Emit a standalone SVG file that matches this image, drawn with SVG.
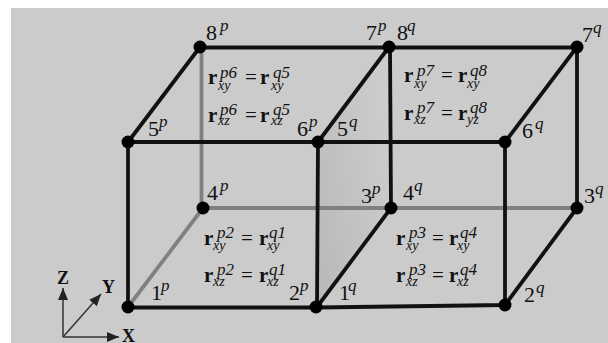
<svg xmlns="http://www.w3.org/2000/svg" width="608" height="343" viewBox="0 0 608 343">
<style>
text{font-family:"Liberation Serif","Times New Roman",serif;fill:#111}
.n{font-size:22px}
.s{font-size:17px;font-style:italic}
.r{font-size:21px;font-weight:bold}
.e{font-size:21px}
.u{font-size:17px;font-style:italic}
.d{font-size:14px;font-style:italic}
.a{font-size:18px;font-weight:bold}
.k{stroke:#111;stroke-width:3.800;fill:none;stroke-linecap:round}
.g{stroke:#808080;stroke-width:3.800;fill:none;stroke-linecap:round}
.t{stroke:#333;stroke-width:1.500;fill:none}
circle{fill:#000}
</style>
<defs>
<linearGradient id="sh" x1="0" y1="1" x2="1" y2="0.300"><stop offset="0" stop-color="#b8b8b8"/><stop offset="1" stop-color="#cdcdcd"/></linearGradient>
<marker id="ah" markerWidth="13" markerHeight="10" refX="12" refY="5" orient="auto" markerUnits="userSpaceOnUse"><path d="M0 0L12 5L0 10Z" fill="#222"/></marker>
</defs>
<rect x="11" y="8" width="597" height="335" fill="#cbcbcb"/>
<polygon points="318,142 389,47 391,208 317,307" fill="url(#sh)"/>
<g id="connectors">
<path class="g" d="M201.500 47V208M203 208H577M203 208L128 307"/>
<path class="k" d="M200 47.500H577M128 142H505M128 142L200 47M318 142L389 47M505 142L577 47M128 142V307M318 142L317 307M505 142V305M577 47V208M390 47L391 208M128 307.500L317 307.500L505 305M317 307L391 208M505 305L577 208"/>
</g>
<g id="axes">
<path class="t" d="M63 337V288" marker-end="url(#ah)"/>
<path class="t" d="M63 337L101 294" marker-end="url(#ah)"/>
<path class="t" d="M63 337H119" marker-end="url(#ah)"/>
<text class="a" x="57" y="284">Z</text><text class="a" x="102" y="293">Y</text><text class="a" x="122" y="342">X</text>
</g>
<g id="n1p"><circle cx="128" cy="307" r="6.500"/><text class="n" x="151" y="300">1</text><text class="s" x="161" y="291">p</text></g>
<g id="n2p"><circle cx="316" cy="307" r="6.500"/><text class="n" x="289" y="300">2</text><text class="s" x="300" y="291">p</text></g>
<g id="n1q"><text class="n" x="339" y="300">1</text><text class="s" x="348" y="291">q</text></g>
<g id="n2q"><circle cx="505" cy="305" r="6.500"/><text class="n" x="524" y="302">2</text><text class="s" x="536" y="293">q</text></g>
<g id="n3p"><text class="n" x="361" y="203">3</text><text class="s" x="372" y="194">p</text></g>
<g id="n4q"><circle cx="391" cy="208" r="6.500"/><text class="n" x="403" y="200">4</text><text class="s" x="414" y="191">q</text></g>
<g id="n3q"><circle cx="577" cy="208" r="6.500"/><text class="n" x="584" y="203">3</text><text class="s" x="595" y="194">q</text></g>
<g id="n4p"><circle cx="203" cy="208" r="6.500"/><text class="n" x="207" y="200">4</text><text class="s" x="220" y="191">p</text></g>
<g id="n5p"><circle cx="128" cy="142" r="6.500"/><text class="n" x="148" y="136">5</text><text class="s" x="159" y="127">p</text></g>
<g id="n6p"><circle cx="318" cy="142" r="6.500"/><text class="n" x="297" y="136">6</text><text class="s" x="309" y="127">p</text></g>
<g id="n5q"><text class="n" x="337" y="136">5</text><text class="s" x="349" y="127">q</text></g>
<g id="n6q"><circle cx="505" cy="142" r="6.500"/><text class="n" x="522" y="138">6</text><text class="s" x="535" y="129">q</text></g>
<g id="n8p"><circle cx="200" cy="47" r="6.500"/><text class="n" x="206" y="40">8</text><text class="s" x="220" y="31">p</text></g>
<g id="n7p"><circle cx="389" cy="47" r="6.500"/><text class="n" x="366" y="40">7</text><text class="s" x="378" y="31">p</text></g>
<g id="n8q"><text class="n" x="397" y="40">8</text><text class="s" x="407" y="31">q</text></g>
<g id="n7q"><circle cx="577" cy="47" r="6.500"/><text class="n" x="582" y="42">7</text><text class="s" x="593" y="33">q</text></g>
<g id="eq-p6">
<text class="r" x="208" y="84">r</text><text class="u" x="220" y="78">p6</text><text class="d" x="218" y="90">xy</text><text class="e" x="245" y="84">=</text><text class="r" x="260" y="84">r</text><text class="u" x="273" y="78">q5</text><text class="d" x="271" y="90">xy</text>
<text class="r" x="208" y="122">r</text><text class="u" x="220" y="115">p6</text><text class="d" x="218" y="125">xz</text><text class="e" x="245" y="122">=</text><text class="r" x="260" y="122">r</text><text class="u" x="273" y="115">q5</text><text class="d" x="271" y="125">xz</text>
</g>
<g id="eq-p7">
<text class="r" x="404" y="82">r</text><text class="u" x="417" y="76">p7</text><text class="d" x="414" y="88">xy</text><text class="e" x="441" y="82">=</text><text class="r" x="458" y="82">r</text><text class="u" x="470" y="76">q8</text><text class="d" x="467" y="88">xy</text>
<text class="r" x="404" y="120">r</text><text class="u" x="417" y="113">p7</text><text class="d" x="414" y="124">xz</text><text class="e" x="441" y="120">=</text><text class="r" x="458" y="120">r</text><text class="u" x="470" y="113">q8</text><text class="d" x="467" y="124">yz</text>
</g>
<g id="eq-p2">
<text class="r" x="204" y="245">r</text><text class="u" x="217" y="238">p2</text><text class="d" x="213" y="250">xy</text><text class="e" x="241" y="245">=</text><text class="r" x="259" y="245">r</text><text class="u" x="269" y="238">q1</text><text class="d" x="267" y="250">xy</text>
<text class="r" x="204" y="282">r</text><text class="u" x="217" y="275">p2</text><text class="d" x="213" y="286">xz</text><text class="e" x="241" y="282">=</text><text class="r" x="259" y="282">r</text><text class="u" x="269" y="275">q1</text><text class="d" x="267" y="286">xz</text>
</g>
<g id="eq-p3">
<text class="r" x="396" y="245">r</text><text class="u" x="409" y="238">p3</text><text class="d" x="406" y="250">xy</text><text class="e" x="432" y="245">=</text><text class="r" x="449" y="245">r</text><text class="u" x="460" y="238">q4</text><text class="d" x="457" y="250">xy</text>
<text class="r" x="396" y="282">r</text><text class="u" x="409" y="275">p3</text><text class="d" x="406" y="286">xz</text><text class="e" x="432" y="282">=</text><text class="r" x="449" y="282">r</text><text class="u" x="460" y="275">q4</text><text class="d" x="457" y="286">xz</text>
</g>
</svg>
